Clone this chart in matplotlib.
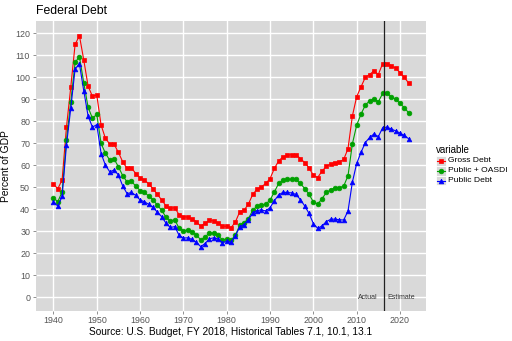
import matplotlib
matplotlib.use("Agg")
import matplotlib.pyplot as plt
from matplotlib.lines import Line2D
from matplotlib.patches import Rectangle

plt.rcParams['font.family'] = ['Liberation Sans', 'DejaVu Sans']

years = list(range(1940, 2023))

gross_debt = [51.5, 49.4, 53.4, 77.3, 95.6, 115.0, 118.9, 107.9, 96.0, 91.4,
              92.0, 78.3, 72.3, 69.7, 69.6, 65.9, 61.6, 58.6, 58.9, 56.3,
              54.3, 53.4, 51.6, 49.3, 46.9, 44.2, 41.6, 40.5, 40.8, 37.6,
              36.7, 36.5, 35.7, 34.4, 32.4, 33.8, 35.0, 34.8, 34.0, 32.4,
              32.3, 31.7, 34.3, 38.9, 39.6, 42.4, 46.8, 49.2, 50.2, 51.8,
              54.0, 58.6, 62.1, 63.9, 64.6, 64.9, 64.9, 63.1, 61.3, 58.9,
              55.5, 54.5, 57.4, 59.6, 60.7, 61.2, 61.6, 62.7, 67.6, 82.4,
              91.2, 95.7, 100.0, 101.3, 103.0, 101.3, 106.3, 106.3, 105.3, 104.1,
              102.2, 100.0, 97.4]

public_oasdi = [45.3, 43.5, 48.0, 71.5, 88.9, 106.8, 109.4, 97.5, 86.4, 81.4,
                83.2, 70.0, 65.5, 62.4, 62.9, 59.4, 55.3, 52.5, 52.8, 50.6,
                48.6, 47.9, 46.0, 44.4, 41.9, 39.6, 36.4, 34.8, 35.3, 31.5,
                30.4, 30.6, 29.8, 28.4, 26.2, 27.5, 29.3, 29.1, 28.2, 26.2,
                26.5, 26.0, 28.3, 32.8, 34.0, 35.8, 39.6, 41.5, 41.9, 42.4,
                44.2, 48.0, 51.8, 53.3, 53.6, 53.7, 53.6, 51.8, 49.5, 46.9,
                43.4, 42.4, 44.9, 47.7, 48.9, 49.6, 49.9, 50.6, 55.3, 69.7,
                78.3, 83.3, 87.4, 89.4, 90.1, 88.9, 92.7, 92.7, 91.2, 90.0,
                88.2, 86.2, 83.9]

public_debt = [43.6, 41.5, 45.9, 69.2, 86.0, 103.9, 106.1, 93.9, 82.4, 77.4,
               78.5, 65.4, 60.1, 57.1, 57.9, 55.7, 50.6, 47.2, 47.7, 46.4,
               44.3, 43.5, 42.3, 41.0, 38.7, 36.7, 33.7, 31.8, 32.2, 28.3,
               27.0, 27.1, 26.4, 25.1, 23.1, 24.5, 26.7, 27.1, 26.6, 24.9,
               25.5, 25.2, 27.9, 32.1, 33.1, 35.3, 38.4, 39.5, 39.8, 39.3,
               40.8, 44.0, 46.6, 47.8, 47.7, 47.5, 46.8, 44.5, 41.6, 38.2,
               33.6, 31.4, 32.5, 34.5, 35.5, 35.6, 35.3, 35.2, 39.3, 52.3,
               60.9, 65.9, 70.4, 72.7, 74.3, 73.1, 77.1, 77.4, 76.5, 75.7,
               74.7, 73.6, 72.1]

series_names = ["Gross Debt", "Public + OASDI", "Public Debt"]
series_values = [gross_debt, public_oasdi, public_debt]
colors = ["#FF0000", "#00A000", "#0000FF"]
markers = ["s", "o", "^"]

split_year = 2016.4
xticks = [1940, 1950, 1960, 1970, 1980, 1990, 2000, 2010, 2020]
yticks = list(range(0, 121, 10))

fig = plt.figure(figsize=(5.12, 3.41), dpi=100)
ax = fig.add_axes([0.0697, 0.0889, 0.832 - 0.0697, 0.939 - 0.0889])
ax.set_facecolor("#D9D9D9")
for s in ax.spines.values():
    s.set_visible(False)
ax.set_axisbelow(True)
ax.grid(True, color="white", linewidth=1.0)

for name, vals, c, m in zip(series_names, series_values, colors, markers):
    ax.plot(years, vals, color=c, linewidth=0.8, marker=m, markersize=3.4,
            markeredgecolor=c, markeredgewidth=0.5, zorder=3)

ax.axvline(split_year, color="#222222", linewidth=0.9, zorder=4)
ax.annotate("Actual", xy=(split_year, 0), xytext=(-5, 0), textcoords="offset points",
            ha="right", va="center", fontsize=5.0, color="#333333")
ax.annotate("Estimate", xy=(split_year, 0), xytext=(2, 0), textcoords="offset points",
            ha="left", va="center", fontsize=5.0, color="#333333")

ax.set_xlim(1935.9, 2026.0)
ax.set_ylim(-6.0, 125.7)
ax.set_xticks(xticks)
ax.set_yticks(yticks)
ax.tick_params(axis="both", colors="#7F7F7F", labelcolor="#555555",
               labelsize=6.4, length=2.5, width=0.6, pad=1.5)

ax.set_ylabel("Percent of GDP", fontsize=7.4, color="black", labelpad=3)
ax.set_xlabel("Source: U.S. Budget, FY 2018, Historical Tables 7.1, 10.1, 13.1",
              fontsize=7.3, color="black", labelpad=1.5)
fig.text(36 / 512, 1 - 11 / 341, "Federal Debt", fontsize=8.8, ha="left", va="center")

# legend
fig.text(436 / 512, 1 - 150 / 341, "variable", fontsize=7.0, ha="left", va="center")
ys = [161, 170.8, 180.6]
for name, c, m, yp in zip(series_names, colors, markers, ys):
    yf = 1 - yp / 341
    fig.patches.append(Rectangle((436 / 512, yf - 4.7 / 341), 10 / 512, 9.4 / 341,
                                 transform=fig.transFigure, facecolor="#D9D9D9",
                                 edgecolor="white", linewidth=0.6))
    fig.lines.append(Line2D([437 / 512, 445 / 512], [yf, yf], transform=fig.transFigure,
                            color=c, linewidth=0.8))
    fig.lines.append(Line2D([441 / 512], [yf], transform=fig.transFigure, color=c,
                            marker=m, markersize=3.4, markeredgewidth=0.5, linestyle="none"))
    fig.text(448 / 512, yf, name, fontsize=6.1, ha="left", va="center")

fig.savefig("out.png", dpi=100)
